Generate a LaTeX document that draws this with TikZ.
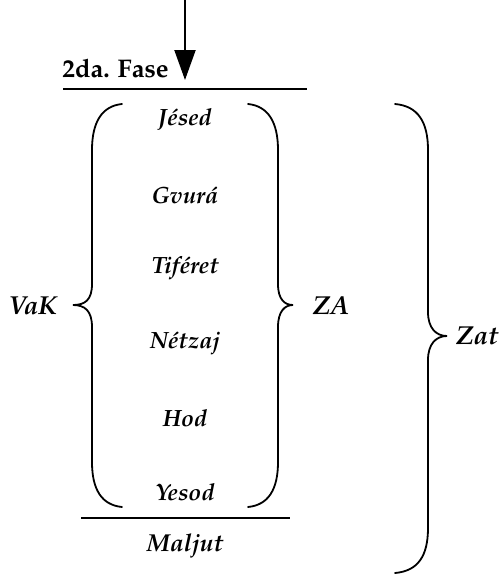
\documentclass[tikz,border=0pt]{standalone}
\usepackage[T1]{fontenc}
\usepackage{mathpazo}
\usetikzlibrary{arrows.meta}
\tikzset{
  lbl/.style={font=\fontsize{23.5}{25}\selectfont\itshape\bfseries, inner sep=0pt},
  biglbl/.style={font=\fontsize{26}{28}\selectfont\itshape\bfseries, inner sep=0pt},
  brace/.style={line width=1.8pt, line cap=round},
  rule/.style={line width=2.8pt},
}
\begin{document}
\begin{tikzpicture}[x=1pt,y=-1pt]
\useasboundingbox (0,0) rectangle (499,576);
% arrow
\coordinate (src) at (185,0);
\coordinate (dst) at (185,80);
\draw[line width=2pt,-{Triangle[width=21pt,length=30pt]}] (src) -- (dst);
\node[font=\fontsize{25.5}{27}\selectfont\bfseries, inner sep=0pt, anchor=base] (fase) at (115.5,77) {2da. Fase};
\draw[rule] (63,89) -- (307,89);
\draw[rule] (81,518) -- (290,518);
% inner labels
\node[lbl] (jesed) at (185,120) {J\'esed};
\node[lbl] (gvura) at (185,195) {Gvur\'a};
\node[lbl] (tiferet) at (185,268) {Tif\'eret};
\node[lbl] (netzaj) at (185,343) {N\'etzaj};
\node[lbl] (hod) at (185,418) {Hod};
\node[lbl] (yesod) at (185,492) {Yesod};
\node[font=\fontsize{24.5}{26}\selectfont\itshape\bfseries, inner sep=0pt] (maljut) at (185,546) {Maljut};
\node[biglbl] (vak) at (33,306) {VaK};
\node[biglbl] (za) at (331,306) {ZA};
\node[biglbl,anchor=west] (zat) at (456,336) {Zat};
% left brace
\draw[brace] (122,104) .. controls (102,106) and (92,122) .. (92,150)
  -- (92,284) .. controls (92,300) and (85,305) .. (73,305)
  .. controls (85,305) and (92,311) .. (92,327)
  -- (92,462) .. controls (92,490) and (102,505) .. (122,507);
% right brace
\draw[brace] (248,104) .. controls (268,106) and (278,122) .. (278,150)
  -- (278,284) .. controls (278,300) and (285,305) .. (293,305)
  .. controls (285,305) and (278,311) .. (278,327)
  -- (278,462) .. controls (278,490) and (268,505) .. (248,507);
% big brace
\draw[brace] (395,104) .. controls (418,106) and (428,122) .. (428,150)
  -- (428,312) .. controls (428,328) and (436,336) .. (447,336)
  .. controls (436,336) and (428,344) .. (428,360)
  -- (428,528) .. controls (428,556) and (418,571) .. (395,573);
\end{tikzpicture}
\end{document}
